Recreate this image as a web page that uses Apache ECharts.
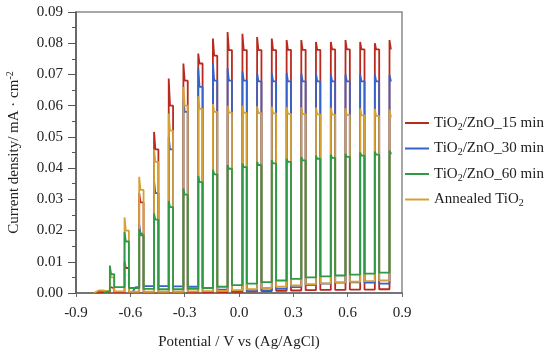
<!DOCTYPE html>
<html><head><meta charset="utf-8">
<script src="https://cdn.jsdelivr.net/npm/echarts@6/dist/echarts.min.js"></script>
<style>html,body{margin:0;padding:0;background:#fff}#c{width:550px;height:352px}</style>
</head><body><div id="c"></div>
<script>
// ---- data ----
const seriesNames = ['TiO2/ZnO_15 min', 'TiO2/ZnO_30 min', 'TiO2/ZnO_60 min', 'Annealed TiO2'];
const xTickLabels = ['-0.9', '-0.6', '-0.3', '0.0', '0.3', '0.6', '0.9'];
const yTickLabels = ['0.00','0.01','0.02','0.03','0.04','0.05','0.06','0.07','0.08','0.09'];
// potentials (V) at which the light is switched on
const lightOn = [-0.713,-0.632,-0.551,-0.469,-0.388,-0.307,-0.225,-0.144,-0.063,0.019,0.100,0.181,0.263,0.344,0.425,0.507,0.588,0.669,0.750,0.831];
const lightOnWidth = 0.024;   // V of illumination per pulse
const spikeDecay = 0.007;     // V from spike to steady photocurrent
const scanEnd = 0.843;

// TiO2/ZnO_15 min
const lead15 = [[-0.800,0.0000],[-0.770,0.0004],[-0.740,0.0003]];
const first15 = 0;
const peak15 = [0.0020,0.0100,0.0320,0.0516,0.0687,0.0735,0.0767,0.0815,0.0836,0.0830,0.0820,0.0815,0.0810,0.0810,0.0804,0.0804,0.0810,0.0804,0.0800,0.0810];
const plat15 = [0.0015,0.0080,0.0290,0.0460,0.0600,0.0680,0.0735,0.0760,0.0778,0.0778,0.0778,0.0778,0.0779,0.0779,0.0779,0.0780,0.0780,0.0780,0.0780,0.0783];
const dark15 = [0.0003,0.0003,0.0003,0.0003,0.0003,0.0003,0.0003,0.0003,0.0004,0.0005,0.0006,0.0007,0.0008,0.0009,0.0010,0.0010,0.0011,0.0011,0.0012];

// TiO2/ZnO_30 min
const lead30 = [[-0.625,-0.0012],[-0.600,-0.0008],[-0.570,0.0019]];
const first30 = 2;
const peak30 = [0.0220,0.0360,0.0500,0.0620,0.0720,0.0735,0.0720,0.0710,0.0705,0.0705,0.0705,0.0703,0.0703,0.0700,0.0700,0.0700,0.0700,0.0698];
const plat30 = [0.0190,0.0320,0.0460,0.0580,0.0660,0.0680,0.0680,0.0680,0.0678,0.0678,0.0678,0.0678,0.0678,0.0678,0.0678,0.0678,0.0678,0.0680];
const dark30 = [0.0022,0.0022,0.0021,0.0020,0.0016,0.0011,0.0007,0.0006,0.0008,0.0013,0.0019,0.0025,0.0030,0.0033,0.0034,0.0033,0.0030];

// TiO2/ZnO_60 min
const lead60 = [[-0.745,0.0000],[-0.725,0.0005]];
const first60 = 0;
const peak60 = [0.0088,0.0195,0.0205,0.0255,0.0295,0.0335,0.0375,0.0395,0.0410,0.0415,0.0420,0.0425,0.0430,0.0435,0.0440,0.0443,0.0446,0.0450,0.0453,0.0456];
const plat60 = [0.0060,0.0165,0.0185,0.0235,0.0275,0.0315,0.0355,0.0380,0.0398,0.0403,0.0410,0.0415,0.0420,0.0425,0.0430,0.0433,0.0436,0.0440,0.0443,0.0447];
const dark60 = [0.0019,0.0016,0.0013,0.0012,0.0012,0.0013,0.0016,0.0020,0.0025,0.0030,0.0035,0.0040,0.0045,0.0050,0.0053,0.0056,0.0059,0.0062,0.0065];

// Annealed TiO2
const leadAn = [[-0.800,0.0000],[-0.775,0.0008],[-0.745,0.0008],[-0.725,0.0005]];
const firstAn = 0;
const peakAn = [0.0065,0.0242,0.0372,0.0460,0.0575,0.0660,0.0630,0.0605,0.0600,0.0600,0.0598,0.0597,0.0596,0.0595,0.0594,0.0593,0.0592,0.0591,0.0590,0.0588];
const platAn = [0.0050,0.0200,0.0330,0.0420,0.0520,0.0600,0.0590,0.0580,0.0578,0.0577,0.0576,0.0575,0.0574,0.0573,0.0572,0.0571,0.0570,0.0569,0.0567,0.0565];
const darkAn = [0.0005,0.0004,0.0004,0.0004,0.0004,0.0005,0.0006,0.0007,0.0009,0.0012,0.0016,0.0020,0.0024,0.0028,0.0031,0.0034,0.0036,0.0038,0.0040];

const colors = {'15':'#b92a1e','30':'#3563c9','60':'#2f9a45','An':'#d4a136'};

// ---- build chopped-light traces ----
function build(lead, first, peak, plat, dark) {
  const pts = lead.map(p => p.slice());
  for (let i = 0; i < peak.length; i++) {
    const k = first + i;
    const on = lightOn[k];
    const d = pts[pts.length - 1][1];
    pts.push([on, d]);
    pts.push([on, peak[i]]);
    pts.push([on + spikeDecay, plat[i]]);
    if (k === lightOn.length - 1) {
      pts.push([scanEnd, plat[i]]);
    } else {
      pts.push([on + lightOnWidth, plat[i]]);
      pts.push([on + lightOnWidth, dark[i]]);
    }
  }
  return pts;
}

const serif = 'Liberation Serif, Times New Roman, serif';
function mk(name, data, color) {
  return {name, type:'line', data, showSymbol:false, symbol:'none', animation:false,
    lineStyle:{color, width:1.8}, itemStyle:{color}};
}
const chart = echarts.init(document.getElementById('c'), null, {renderer:'canvas'});
chart.setOption({
  animation:false,
  backgroundColor:'#ffffff',
  grid:{left:76, right:148, top:12, bottom:59, show:true, borderColor:'#8a8a8a', borderWidth:1.5,
    containLabel:false, outerBoundsMode:'none'},
  legend:{
    data:seriesNames, orient:'vertical', left:405, top:114, padding:0, icon:'rect', itemWidth:24, itemHeight:2,
    itemGap:7.5,
    formatter: n => n.replace('TiO2', 'TiO{sub|2}'),
    textStyle:{fontFamily:serif, fontSize:15, color:'#222', lineHeight:18,
      rich:{sub:{fontFamily:serif, fontSize:10, lineHeight:10, verticalAlign:'bottom', color:'#222'}}}
  },
  xAxis:{
    type:'value', min:-0.9, max:0.9, interval:0.3,
    name:'Potential / V vs (Ag/AgCl)', nameLocation:'middle', nameGap:41.5,
    nameTextStyle:{fontFamily:serif, fontSize:15, color:'#222'},
    axisLine:{show:true, onZero:false, lineStyle:{color:'#666', width:1.5}},
    axisTick:{show:true, inside:false, length:4, lineStyle:{color:'#666'}},
    minorTick:{show:false},
    splitLine:{show:false},
    axisLabel:{margin:13, fontFamily:serif, fontSize:15, color:'#222',
      formatter: v => xTickLabels[Math.round((v + 0.9) / 0.3)]}
  },
  yAxis:{
    type:'value', min:0, max:0.09, interval:0.01,
    name:'{a|Current density/ mA · cm}{s|-2}', nameLocation:'middle', nameGap:53,
    nameTextStyle:{fontFamily:serif, fontSize:15, color:'#222',
      rich:{a:{fontFamily:serif, fontSize:15, color:'#222', lineHeight:18},
            s:{fontFamily:serif, fontSize:10, color:'#222', lineHeight:10, verticalAlign:'top'}}},
    axisLine:{show:true, onZero:false, lineStyle:{color:'#555', width:1.5}},
    axisTick:{show:true, inside:false, length:8, lineStyle:{color:'#555'}},
    minorTick:{show:true, splitNumber:2, length:4, lineStyle:{color:'#555'}},
    splitLine:{show:false},
    axisLabel:{margin:13, fontFamily:serif, fontSize:15, color:'#222',
      formatter: v => yTickLabels[Math.round(v / 0.01)]}
  },
  series:[
    mk(seriesNames[0], build(lead15, first15, peak15, plat15, dark15), colors['15']),
    mk(seriesNames[1], build(lead30, first30, peak30, plat30, dark30), colors['30']),
    mk(seriesNames[3], build(leadAn, firstAn, peakAn, platAn, darkAn), colors['An']),
    mk(seriesNames[2], build(lead60, first60, peak60, plat60, dark60), colors['60'])
  ]
});
</script></body></html>
